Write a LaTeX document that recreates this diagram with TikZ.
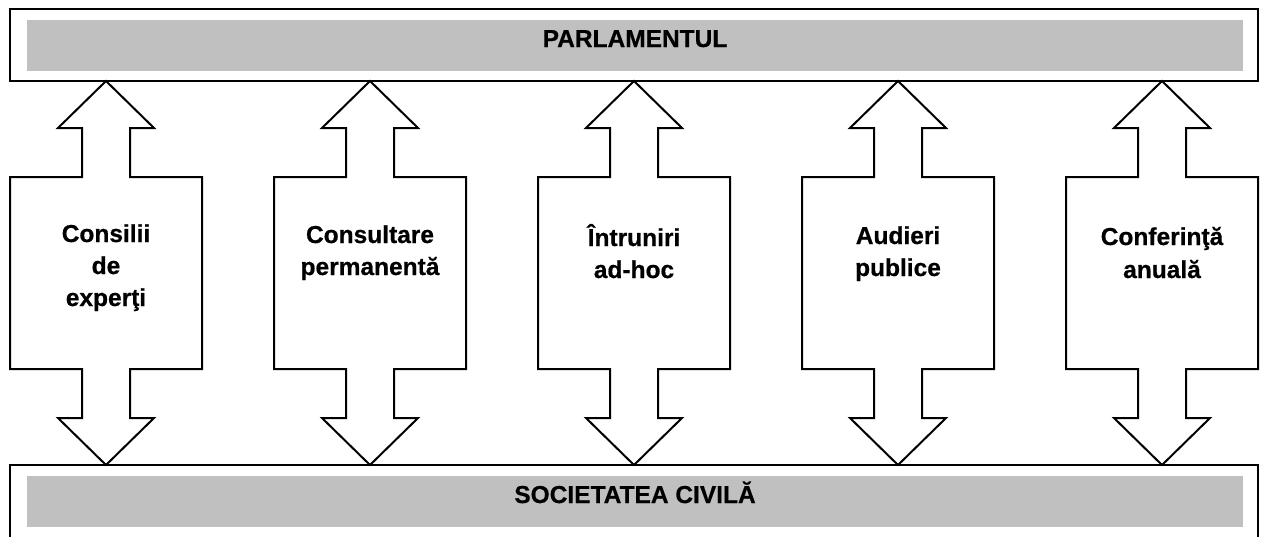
\documentclass[tikz,border=0pt]{standalone}
\usepackage{fontspec}
\setmainfont{Liberation Sans}[BoldFeatures={FakeBold=0.6}]
\definecolor{bandgray}{RGB}{192,192,192}
\begin{document}
\begin{tikzpicture}[x=1pt,y=-1pt,
  frame/.style={draw=black,line width=2pt,fill=white},
  band/.style={fill=bandgray,draw=none},
  dblarrow/.style={draw=black,line width=2pt,fill=white,line join=miter},
  lbl/.style={font=\fontsize{24.5}{28}\selectfont\bfseries,anchor=base,inner sep=0pt}]
\clip (0,0) rectangle (1261,536);
\fill[white] (0,0) rectangle (1261,536);
% boxes
\path[frame] (10,9) rectangle (1258,81);
\path[band] (27,20) rectangle (1243,71);
\path[frame] (10,465) rectangle (1258,560);
\path[band] (27,476) rectangle (1243,527);
\node[lbl] (parl) at (635,47) {PARLAMENTUL};
\node[lbl] (soc) at (635,503) {SOCIETATEA CIVILĂ};
% double arrows
\foreach \c/\n in {106/a1,370/a2,634/a3,898/a4,1162/a5}{
  \coordinate (\n top) at (\c,81);
  \coordinate (\n bot) at (\c,465);
  \draw[dblarrow] (\n top) -- (\c+48,128) -- (\c+24,128) -- (\c+24,177)
    -- (\c+96,177) -- (\c+96,369) -- (\c+24,369) -- (\c+24,418)
    -- (\c+48,418) -- (\n bot) -- (\c-48,418) -- (\c-24,418)
    -- (\c-24,369) -- (\c-96,369) -- (\c-96,177) -- (\c-24,177)
    -- (\c-24,128) -- (\c-48,128) -- cycle;
}
% labels
\node[lbl] (l1a) at (106,242) {Consilii};
\node[lbl] (l1b) at (106,274) {de};
\node[lbl] (l1c) at (106,306) {experţi};
\node[lbl] (l2a) at (370,243) {Consultare};
\node[lbl] (l2b) at (370,275) {permanentă};
\node[lbl] (l3a) at (634,246) {Întruniri};
\node[lbl] (l3b) at (634,278) {ad-hoc};
\node[lbl] (l4a) at (898,244) {Audieri};
\node[lbl] (l4b) at (898,276) {publice};
\node[lbl] (l5a) at (1162,245) {Conferinţă};
\node[lbl] (l5b) at (1162,278) {anuală};
\end{tikzpicture}
\end{document}
